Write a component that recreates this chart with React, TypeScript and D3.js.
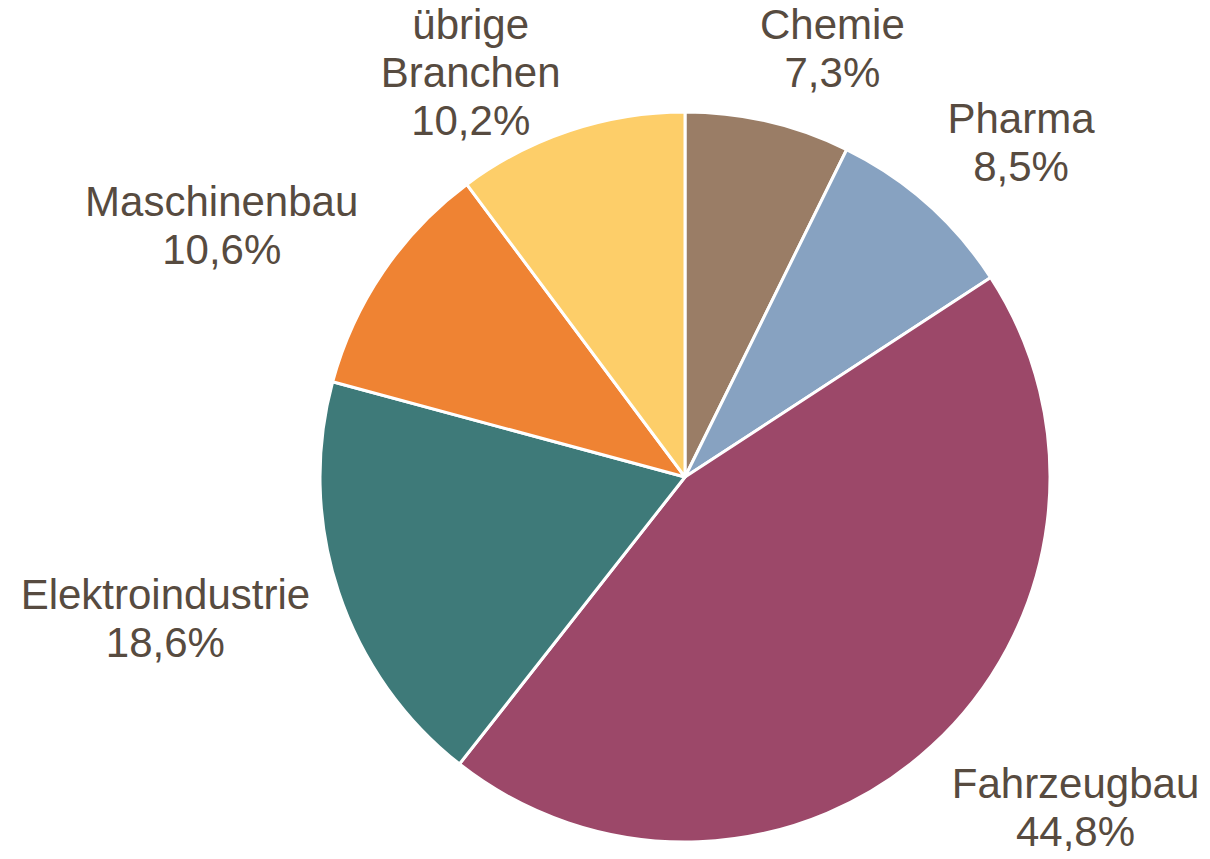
import React, { useEffect, useRef } from "react";
import * as d3 from "d3";

const categories = ["Chemie", "Pharma", "Fahrzeugbau", "Elektroindustrie", "Maschinenbau", "übrige Branchen"];
const shares = [7.3, 8.5, 44.8, 18.6, 10.6, 10.2];
const colors = ["#9A7D66", "#87A2C1", "#9C4869", "#3E7A79", "#EF8333", "#FDCE69"];

const width = 1210;
const height = 859;
const cx = 685;
const cy = 477;
const radius = 365;

export default function App() {
  const svgRef = useRef<SVGSVGElement>(null);

  useEffect(() => {
    const svg = d3.select(svgRef.current);
    svg.selectAll("*").remove();

    const data = categories.map((c, i) => ({ name: c, value: shares[i], color: colors[i] }));
    const pie = d3.pie<any>().value((d) => d.value).sort(null);
    const arc = d3.arc<any>().innerRadius(0).outerRadius(radius);
    const arcs = pie(data);

    const g = svg.append("g").attr("transform", `translate(${cx},${cy})`);

    g.selectAll("path")
      .data(arcs)
      .enter()
      .append("path")
      .attr("d", arc)
      .attr("fill", (d) => d.data.color)
      .attr("stroke", "#fff")
      .attr("stroke-width", 3)
      .attr("stroke-linejoin", "round");

    // labels at the outside end: box pushed off the pie edge, kept inside the chart
    const fmt = (v: number) => v.toFixed(1).replace(".", ",") + "%";
    const lineH = 48;
    const gap = 30;
    const clamp = (v: number) => Math.max(-1, Math.min(1, v));

    arcs.forEach((a) => {
      const mid = (a.startAngle + a.endAngle) / 2;
      const ux = Math.sin(mid);
      const uy = -Math.cos(mid);
      const lines = a.data.name.split(" ").concat([fmt(a.data.value)]);
      const n = lines.length;

      const lab = g.append("g");
      const txt = lab
        .append("text")
        .attr("text-anchor", "middle")
        .attr("font-family", "'Liberation Sans', Arial, sans-serif")
        .attr("font-size", 42)
        .attr("fill", "#574B40");
      lines.forEach((l: string, i: number) => {
        txt.append("tspan").attr("x", 0).attr("y", (i - (n - 1) / 2) * lineH + 15).text(l);
      });

      const w = (txt.node() as SVGTextElement).getBBox().width;
      const px = (radius + gap) * ux;
      const py = (radius + gap) * uy;
      const bx = px + clamp(ux * 3.5) * (w / 2);
      let by = py + clamp(uy * 1.2) * 44;
      // keep box inside the top of the chart area
      by = Math.max(by, n * lineH / 2 - cy);
      lab.attr("transform", `translate(${bx},${by})`);
    });
  }, []);

  return <svg ref={svgRef} width={width} height={height} style={{ display: "block", margin: -8 }} />;
}
